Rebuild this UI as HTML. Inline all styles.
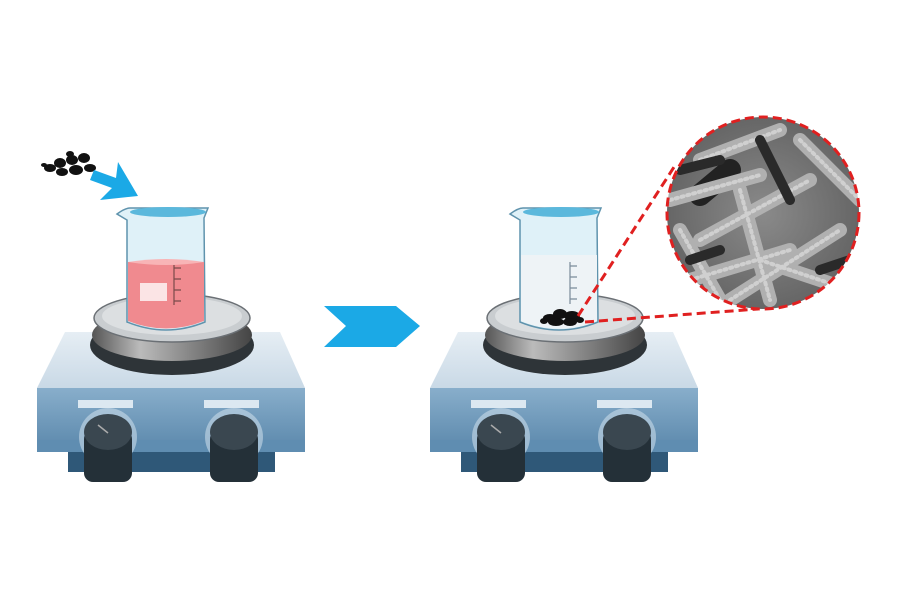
<!DOCTYPE html>
<html><head><style>html,body{margin:0;padding:0;background:#fff;width:900px;height:600px;overflow:hidden}</style></head>
<body>
<svg width="900" height="600" viewBox="0 0 900 600" xmlns="http://www.w3.org/2000/svg">
<defs>
<linearGradient id="panel" x1="0" y1="0" x2="0" y2="1"><stop offset="0" stop-color="#88aecb"/><stop offset="1" stop-color="#5a87ab"/></linearGradient>
<linearGradient id="top" x1="0" y1="0" x2="0" y2="1"><stop offset="0" stop-color="#e6eef4"/><stop offset="1" stop-color="#c9d9e6"/></linearGradient>
<linearGradient id="ring" x1="0" y1="0" x2="1" y2="0"><stop offset="0" stop-color="#555"/><stop offset=".3" stop-color="#bbb"/><stop offset=".6" stop-color="#888"/><stop offset="1" stop-color="#444"/></linearGradient>
<radialGradient id="sem" cx=".5" cy=".5" r=".5"><stop offset="0" stop-color="#8a8a8a"/><stop offset="1" stop-color="#666"/></radialGradient>
<clipPath id="cc"><circle cx="763" cy="213" r="96"/></clipPath>
<g id="hp">
  <rect x="68" y="440" width="207" height="32" fill="#2f5878"/>
  <path d="M65 332 L280 332 L305 388 L37 388 Z" fill="url(#top)"/>
  <path d="M37 388 L305 388 L305 452 L37 452 Z" fill="url(#panel)"/>
  <rect x="37" y="440" width="268" height="12" fill="#5f8db1"/>
  <rect x="78" y="400" width="55" height="8" fill="#dce8f1"/>
  <rect x="204" y="400" width="55" height="8" fill="#dce8f1"/>
  <ellipse cx="172" cy="345" rx="82" ry="30" fill="#2e3438"/>
  <ellipse cx="172" cy="335" rx="80" ry="26" fill="url(#ring)"/>
  <ellipse cx="172" cy="318" rx="78" ry="24" fill="#c9cdd0" stroke="#6b7075" stroke-width="1.5"/>
  <ellipse cx="172" cy="316" rx="70" ry="19" fill="#dcdfe1"/>
  <circle cx="108" cy="437" r="29" fill="#c8dae8" opacity=".6"/>
  <rect x="84" y="430" width="48" height="52" rx="9" fill="#243038"/>
  <ellipse cx="108" cy="432" rx="24" ry="18" fill="#3a4750"/>
  <circle cx="234" cy="437" r="29" fill="#c8dae8" opacity=".6"/>
  <rect x="210" y="430" width="48" height="52" rx="9" fill="#243038"/>
  <ellipse cx="234" cy="432" rx="24" ry="18" fill="#3a4750"/>
  <line x1="98" y1="425" x2="108" y2="433" stroke="#aaa" stroke-width="1.5"/>
</g>
</defs>

<use href="#hp"/>
<use href="#hp" transform="translate(393,0)"/>

<!-- beaker 1 -->
<path d="M117 214 Q125 208 130 208 L208 208 L204 218 L205 322 Q166 338 127 322 L127 220 Z" fill="#dff1f8" stroke="#5f93ad" stroke-width="1.5"/>
<path d="M128 262 L204 262 L204 321 Q166 336 128 321 Z" fill="#f08a8f"/>
<path d="M128 262 Q166 256 204 262 Q166 268 128 262" fill="#f8b4b6"/>
<ellipse cx="168" cy="212" rx="38" ry="5" fill="#5bb8dc"/>
<rect x="140" y="283" width="27" height="18" fill="#fbe4e5"/>
<path d="M174 265 L174 305 M174 268 h7 M174 279 h7 M174 290 h7 M174 301 h7" stroke="#7a4a4a" stroke-width="1.2" fill="none"/>

<!-- beaker 2 -->
<path d="M510 214 Q518 208 523 208 L601 208 L597 218 L598 322 Q559 338 520 322 L520 220 Z" fill="#dff1f8" stroke="#5f93ad" stroke-width="1.5"/>
<path d="M521 255 L597 255 L597 321 Q559 336 521 321 Z" fill="#eef3f6"/>
<ellipse cx="561" cy="212" rx="38" ry="5" fill="#5bb8dc"/>
<path d="M570 262 L570 304 M570 266 h7 M570 277 h7 M570 288 h7 M570 299 h7" stroke="#7a8a9a" stroke-width="1.2" fill="none"/>
<g fill="#111">
<ellipse cx="550" cy="318" rx="7" ry="4"/><ellipse cx="560" cy="314" rx="7" ry="5"/><ellipse cx="572" cy="316" rx="8" ry="5"/><ellipse cx="556" cy="322" rx="8" ry="4"/><ellipse cx="570" cy="322" rx="7" ry="4"/><ellipse cx="544" cy="321" rx="4" ry="3"/><ellipse cx="580" cy="320" rx="4" ry="3"/>
</g>

<!-- particles top-left -->
<g fill="#111">
<ellipse cx="50" cy="168" rx="6" ry="4"/><ellipse cx="60" cy="163" rx="6" ry="5"/><ellipse cx="72" cy="160" rx="6" ry="5"/><ellipse cx="84" cy="158" rx="6" ry="5"/><ellipse cx="62" cy="172" rx="6" ry="4"/><ellipse cx="76" cy="170" rx="7" ry="5"/><ellipse cx="90" cy="168" rx="6" ry="4"/><ellipse cx="44" cy="165" rx="3" ry="2"/><ellipse cx="70" cy="154" rx="4" ry="3"/>
</g>
<!-- small arrow -->
<path d="M94 170 L116 178 L118 162 L138 196 L100 200 L112 188 L90 180 Z" fill="#1ba9e6"/>
<!-- middle arrow -->
<path d="M324 306 L396 306 L420 326 L396 347 L324 347 L346 326 Z" fill="#1ba9e6"/>

<!-- SEM circle -->
<circle cx="763" cy="213" r="96" fill="url(#sem)"/>
<g clip-path="url(#cc)" stroke-linecap="round" fill="none">
<path d="M670 140 L700 120 M830 300 L870 280 M700 195 L730 170" stroke="#222" stroke-width="22"/>
<path d="M670 200 L760 175 M700 240 L810 180 M690 280 L790 250 M730 300 L840 230 M700 160 L780 130 M760 260 L850 290 M680 230 L720 300 M800 140 L860 200 M740 190 L770 300" stroke="#b0b0b0" stroke-width="14"/>
<path d="M670 200 L760 175 M700 240 L810 180 M690 280 L790 250 M730 300 L840 230 M700 160 L780 130 M760 260 L850 290 M680 230 L720 300 M800 140 L860 200 M740 190 L770 300" stroke="#d0d0d0" stroke-width="4" stroke-dasharray="2 4"/>
<path d="M680 170 L720 160 M820 270 L850 260 M690 260 L720 250 M760 140 L790 200" stroke="#2a2a2a" stroke-width="10"/>
</g>
<circle cx="763" cy="213" r="96" fill="none" stroke="#e02020" stroke-width="3" stroke-dasharray="9 5"/>
<path d="M578 316 L676 164 M585 322 L758 309" stroke="#e02020" stroke-width="3" stroke-dasharray="9 5"/>
</svg>
</body></html>
